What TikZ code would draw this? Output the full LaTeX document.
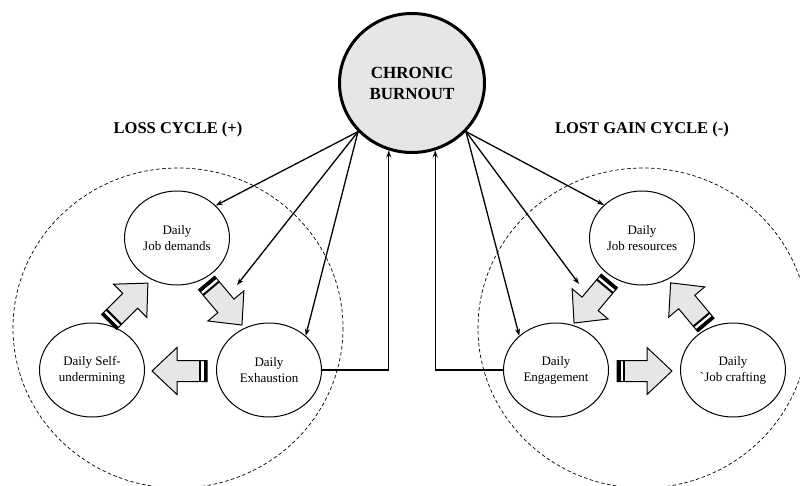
\documentclass[tikz,border=0pt]{standalone}
\usepackage{fontspec}
\setmainfont{Liberation Serif}
\usetikzlibrary{arrows.meta,shapes.geometric}
\definecolor{softgray}{HTML}{E6E6E8}
\begin{document}
\begin{tikzpicture}[x=1pt,y=-1pt,
  daily/.style={ellipse,draw,line width=1pt,minimum width=105pt,minimum height=94pt,
    inner sep=0pt,align=center,font=\fontsize{13}{16}\selectfont},
  hub/.style={ellipse,draw,line width=3pt,fill=softgray,minimum width=145pt,
    minimum height=139pt,inner sep=0pt,align=center,font=\fontsize{17}{21}\selectfont\bfseries},
  heading/.style={font=\fontsize{16.5}{20}\selectfont\bfseries},
  cycleline/.style={dash pattern=on 3.5pt off 2.5pt,line width=0.7pt},
  link/.style={-{Stealth[length=7pt,width=5pt]},line width=1.3pt},
  pics/stripedarrow/.style={code={
    \fill[softgray] (0,-10.5) -- (30,-10.5) -- (30,-23.5) -- (55,0) -- (30,23.5)
      -- (30,10.5) -- (0,10.5) -- cycle;
    \fill[black] (0,-10.5) rectangle (3.5,10.5);
    \fill[white] (3.5,-10.5) rectangle (6,10.5);
    \fill[black] (6,-10.5) rectangle (8,10.5);
    \draw[line width=1pt,line join=miter] (0,-10.5) -- (30,-10.5) -- (30,-23.5)
      -- (55,0) -- (30,23.5) -- (30,10.5) -- (0,10.5) -- cycle;
  }}
]
\fill[white] (0,0) rectangle (800,485);
\useasboundingbox (0,0) rectangle (800,485);
\clip (0,0) rectangle (800,485);

% the two cycles
\draw[cycleline] (178,328) ellipse [x radius=165, y radius=160];
\draw[cycleline] (643,328) ellipse [x radius=165, y radius=160];

\node[heading] (losstitle) at (178,130) {LOSS CYCLE (+)};
\node[heading] (gaintitle) at (642,130) {LOST GAIN CYCLE (-)};

% central construct
\node[hub] (burnout) at (412,83) {CHRONIC\\BURNOUT};

% loss cycle
\node[daily] (demands) at (177,238) {Daily\\Job demands};
\node[daily] (selfund) at (92,370) {Daily Self-\\undermining};
\node[daily] (exhaust) at (269,370) {Daily\\Exhaustion};

% lost gain cycle
\node[daily] (resources) at (642,238) {Daily\\Job resources};
\node[daily] (engage) at (556,370) {Daily\\Engagement};
\node[daily] (crafting) at (733,370) {Daily\\\textasciigrave Job crafting};

% block arrows between the daily states
\pic[rotate=45] at (109,322) {stripedarrow};
\pic[rotate=-50] at (206.6,282.9) {stripedarrow};
\pic[rotate=180] at (207,371) {stripedarrow};
\pic[rotate=-130] at (609.4,280.9) {stripedarrow};
\pic[rotate=0] at (617,371) {stripedarrow};
\pic[rotate=130] at (706,325) {stripedarrow};

% influences of chronic burnout
\coordinate (lmid) at (237,285);
\coordinate (rmid) at (579,284);
\draw[link] (burnout.222) -- (demands.40);
\draw[link] (burnout.222) -- (lmid);
\draw[link] (burnout.222) -- (exhaust.43);
\draw[link] (burnout.318) -- (resources.139);
\draw[link] (burnout.318) -- (rmid);
\draw[link] (burnout.318) -- (engage.137);

% feedback to chronic burnout
\draw[link] (exhaust.east) -| (burnout.251);
\draw[link] (engage.west) -| (burnout.289);
\end{tikzpicture}
\end{document}
